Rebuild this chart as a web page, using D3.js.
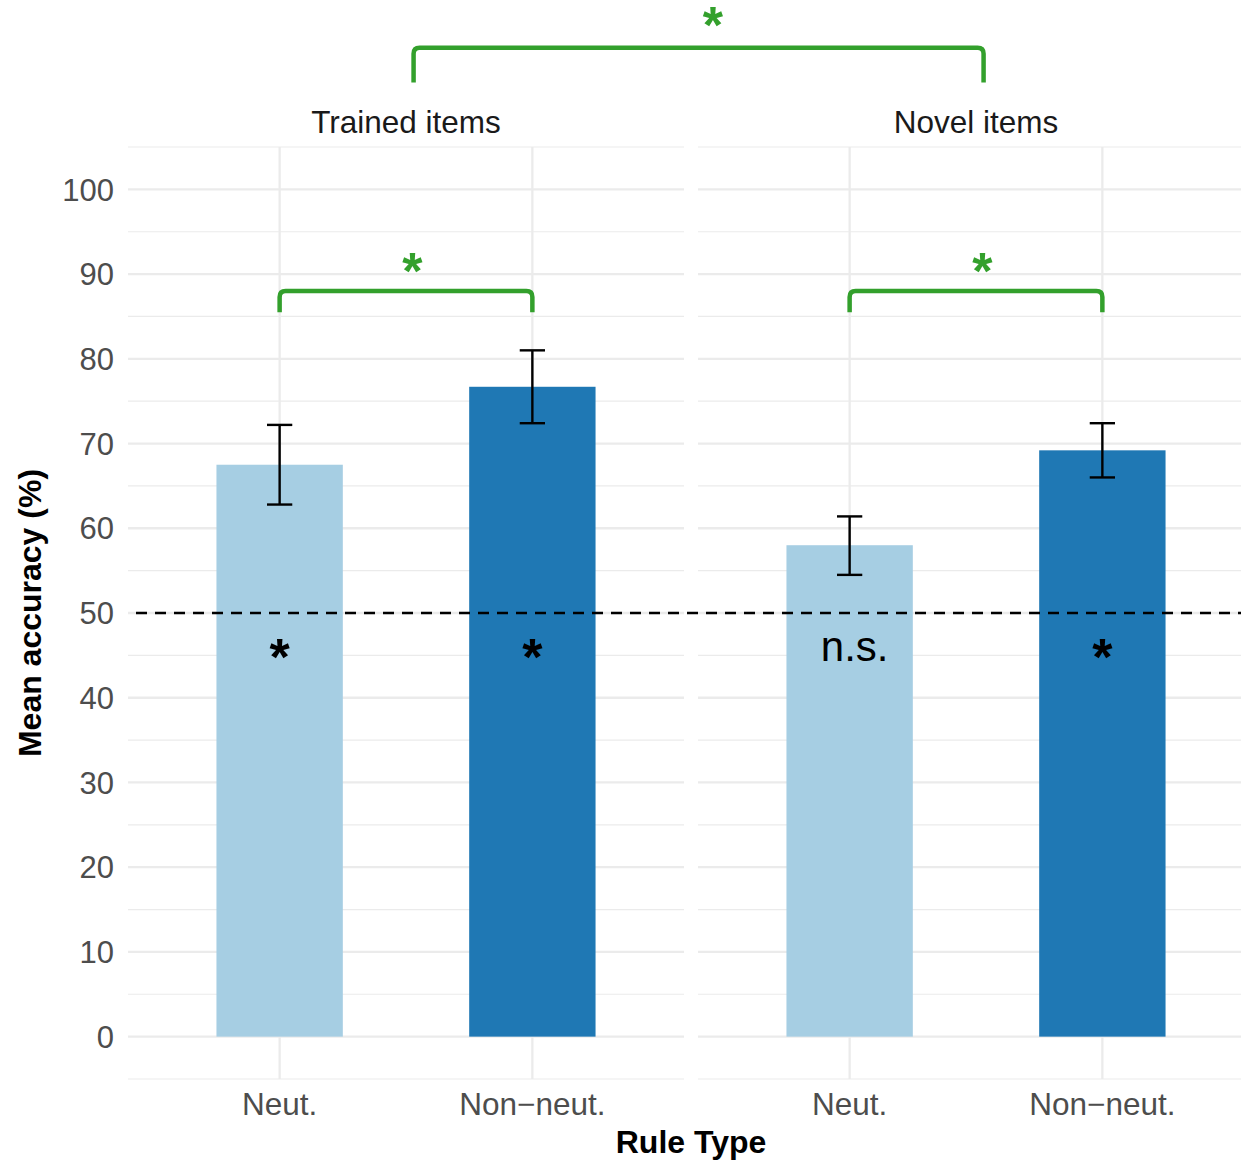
<!DOCTYPE html>
<html>
<head>
<meta charset="utf-8">
<script src="https://cdn.jsdelivr.net/npm/d3@7"></script>
<style>
  html, body { margin: 0; padding: 0; background: #fff; }
  text { font-family: "Liberation Sans", Arial, Helvetica, sans-serif; }
</style>
</head>
<body>
<div id="chart"></div>
<script>
// data
var ruleTypes = ["Neut.", "Non\u2212neut."];
var itemSets = ["Trained items", "Novel items"];
var trainedMean = [67.5, 76.7];
var trainedLow = [62.8, 72.4];
var trainedHigh = [72.2, 81.0];
var novelMean = [58.0, 69.2];
var novelLow = [54.5, 66.0];
var novelHigh = [61.4, 72.4];
var chanceLabels = [["*", "*"], ["n.s.", "*"]];
var yTicks = [0, 10, 20, 30, 40, 50, 60, 70, 80, 90, 100];
var yMinor = [-5, 5, 15, 25, 35, 45, 55, 65, 75, 85, 95, 105];
var chanceLevel = 50;

var W = 1241, H = 1161;
var lightBlue = "#a6cee3", darkBlue = "#1f78b4", green = "#33a02c", grid = "#ebebeb";

var svg = d3.select("#chart").append("svg")
  .attr("width", W).attr("height", H);

var y = d3.scaleLinear().domain([-5, 105]).range([1079, 147]);

var panelW = 556;
var panels = [
  { name: itemSets[0], x0: 128, mean: trainedMean, lo: trainedLow, hi: trainedHigh, labels: chanceLabels[0] },
  { name: itemSets[1], x0: 698, mean: novelMean, lo: novelLow, hi: novelHigh, labels: chanceLabels[1] }
];

panels.forEach(function (p) {
  p.x = d3.scalePoint().domain(ruleTypes).range([p.x0, p.x0 + panelW]).padding(0.6);
  var step = p.x.step();
  var g = svg.append("g");

  // grid
  g.selectAll(".minor").data(yMinor).enter().append("line")
    .attr("x1", p.x0).attr("x2", p.x0 + panelW)
    .attr("y1", function (d) { return y(d); }).attr("y2", function (d) { return y(d); })
    .attr("stroke", grid).attr("stroke-width", 1.2);
  g.selectAll(".major").data(yTicks).enter().append("line")
    .attr("x1", p.x0).attr("x2", p.x0 + panelW)
    .attr("y1", function (d) { return y(d); }).attr("y2", function (d) { return y(d); })
    .attr("stroke", grid).attr("stroke-width", 2.3);
  g.selectAll(".vgrid").data(ruleTypes).enter().append("line")
    .attr("x1", function (d) { return p.x(d); }).attr("x2", function (d) { return p.x(d); })
    .attr("y1", y(105)).attr("y2", y(-5))
    .attr("stroke", grid).attr("stroke-width", 2.3);

  // bars
  g.selectAll(".bar").data(ruleTypes).enter().append("rect")
    .attr("x", function (d) { return p.x(d) - step * 0.25; })
    .attr("width", step * 0.5)
    .attr("y", function (d, i) { return y(p.mean[i]); })
    .attr("height", function (d, i) { return y(0) - y(p.mean[i]); })
    .attr("fill", function (d, i) { return i === 0 ? lightBlue : darkBlue; });

  // error bars
  ruleTypes.forEach(function (d, i) {
    var cx = p.x(d), hw = step * 0.05;
    g.append("line").attr("x1", cx).attr("x2", cx)
      .attr("y1", y(p.lo[i])).attr("y2", y(p.hi[i]))
      .attr("stroke", "#000").attr("stroke-width", 2.4);
    [p.lo[i], p.hi[i]].forEach(function (v) {
      g.append("line").attr("x1", cx - hw).attr("x2", cx + hw)
        .attr("y1", y(v)).attr("y2", y(v))
        .attr("stroke", "#000").attr("stroke-width", 2.4);
    });
  });

  // facet title
  svg.append("text")
    .attr("x", p.x0 + panelW / 2).attr("y", 133)
    .attr("text-anchor", "middle").attr("font-size", 31.5).attr("fill", "#1a1a1a")
    .text(p.name);

  // x tick labels
  g.selectAll(".xlab").data(ruleTypes).enter().append("text")
    .attr("x", function (d) { return p.x(d); }).attr("y", 1115)
    .attr("text-anchor", "middle").attr("font-size", 31.5).attr("fill", "#4d4d4d")
    .text(function (d) { return d; });
});

// y tick labels
svg.selectAll(".ylab").data(yTicks).enter().append("text")
  .attr("x", 114).attr("y", function (d) { return y(d); })
  .attr("dy", "0.36em")
  .attr("text-anchor", "end").attr("font-size", 31).attr("fill", "#4d4d4d")
  .text(function (d) { return d; });

// chance line
svg.append("line")
  .attr("x1", 136).attr("x2", W)
  .attr("y1", y(chanceLevel)).attr("y2", y(chanceLevel))
  .attr("stroke", "#000").attr("stroke-width", 2.5)
  .attr("stroke-dasharray", "11,8");

// labels vs chance
panels.forEach(function (p) {
  ruleTypes.forEach(function (d, i) {
    var lab = p.labels[i];
    var isStar = lab === "*";
    svg.append("text")
      .attr("x", p.x(d)).attr("y", y(45.8))
      .attr("dx", isStar ? 0 : 5)
      .attr("dy", isStar ? "0.5em" : "0.3em")
      .attr("text-anchor", "middle")
      .attr("font-size", isStar ? 52 : 42)
      .attr("font-weight", isStar ? "bold" : "normal")
      .attr("fill", "#000")
      .text(lab);
  });
});

// significance brackets
function bracket(x1, x2, yTop, yBot) {
  var r = 6;
  return "M" + x1 + "," + yBot + "L" + x1 + "," + (yTop + r) +
    "Q" + x1 + "," + yTop + " " + (x1 + r) + "," + yTop +
    "L" + (x2 - r) + "," + yTop +
    "Q" + x2 + "," + yTop + " " + x2 + "," + (yTop + r) +
    "L" + x2 + "," + yBot;
}
function greenStar(x, v) {
  svg.append("text")
    .attr("x", x).attr("y", y(v)).attr("dy", "0.5em")
    .attr("text-anchor", "middle").attr("font-size", 52).attr("font-weight", "bold")
    .attr("fill", green).text("*");
}

panels.forEach(function (p) {
  var a = p.x(ruleTypes[0]), b = p.x(ruleTypes[1]);
  svg.append("path").attr("d", bracket(a, b, y(88.0), y(85.5)))
    .attr("fill", "none").attr("stroke", green).attr("stroke-width", 4.5);
  greenStar(a + (b - a) * 0.525, 91.3);
});

var ta = panels[0].x(ruleTypes[0]) + panels[0].x.step() * 0.53;
var tb = panels[1].x(ruleTypes[0]) + panels[1].x.step() * 0.53;
svg.append("path").attr("d", bracket(ta, tb, y(116.7), y(112.6)))
  .attr("fill", "none").attr("stroke", green).attr("stroke-width", 4.5);
greenStar(ta + (tb - ta) * 0.525, 120.4);

// axis titles
svg.append("text")
  .attr("x", (128 + 698 + panelW) / 2).attr("y", 1153)
  .attr("text-anchor", "middle").attr("font-size", 32).attr("font-weight", "bold")
  .text("Rule Type");
svg.append("text")
  .attr("transform", "translate(41," + (147 + 1079) / 2 + ") rotate(-90)")
  .attr("text-anchor", "middle").attr("font-size", 32).attr("font-weight", "bold")
  .text("Mean accuracy (%)");
</script>
</body>
</html>
